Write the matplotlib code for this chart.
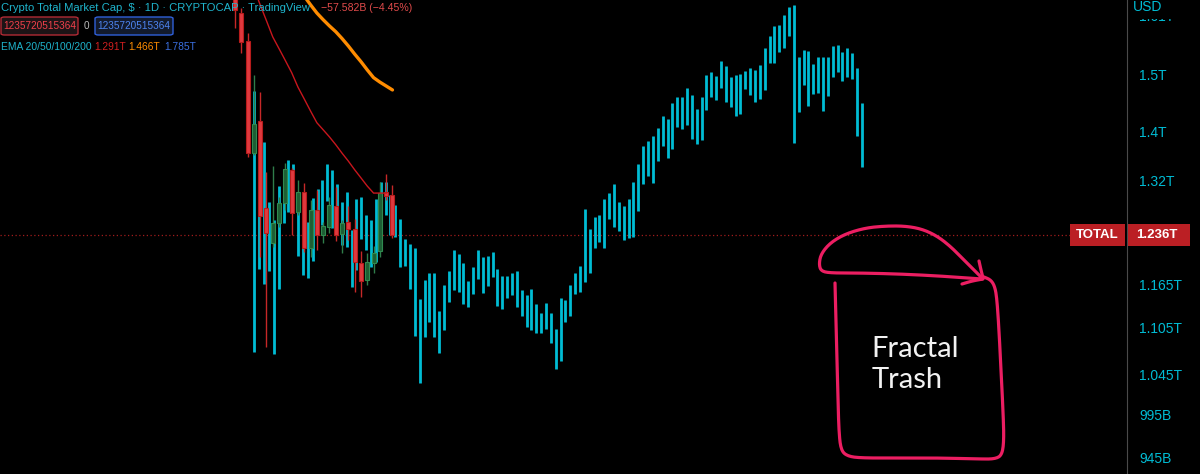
import numpy as np
import matplotlib
matplotlib.use('Agg')
import matplotlib.pyplot as plt
from matplotlib.patches import Rectangle, FancyBboxPatch
from matplotlib.lines import Line2D
from matplotlib.ticker import NullLocator, NullFormatter

# fractal projection bars (trillions USD), high / low
proj_high = [1.470, 1.399, 1.383, 1.286, 1.259, 1.311, 1.321, 1.353, 1.347, 1.302,
             1.289, 1.256, 1.292, 1.307, 1.321, 1.347, 1.337, 1.314, 1.286, 1.302,
             1.243, 1.291, 1.294, 1.266, 1.259, 1.291, 1.318, 1.318, 1.297, 1.282,
             1.260, 1.230, 1.223, 1.217, 1.144, 1.171, 1.181, 1.181, 1.128, 1.164,
             1.184, 1.214, 1.208, 1.195, 1.169, 1.189, 1.214, 1.204, 1.205, 1.211,
             1.186, 1.176, 1.176, 1.181, 1.184, 1.157, 1.150, 1.158, 1.137, 1.125,
             1.139, 1.125, 1.104, 1.146, 1.143, 1.164, 1.181, 1.191, 1.275, 1.245,
             1.263, 1.266, 1.291, 1.300, 1.314, 1.286, 1.280, 1.291, 1.318, 1.347,
             1.376, 1.384, 1.393, 1.406, 1.427, 1.421, 1.449, 1.460, 1.460, 1.476,
             1.463, 1.439, 1.460, 1.499, 1.504, 1.497, 1.525, 1.515, 1.495, 1.499,
             1.501, 1.506, 1.512, 1.508, 1.517, 1.549, 1.571, 1.590, 1.592, 1.612,
             1.627, 1.631, 1.532, 1.545, 1.543, 1.519, 1.532, 1.532, 1.532, 1.552,
             1.554, 1.541, 1.549, 1.539, 1.512, 1.449]
proj_low = [1.073, 1.186, 1.165, 1.184, 1.071, 1.158, 1.254, 1.271, 1.269, 1.205,
            1.178, 1.174, 1.198, 1.236, 1.251, 1.288, 1.247, 1.247, 1.221, 1.218,
            1.161, 1.185, 1.230, 1.214, 1.189, 1.196, 1.240, 1.266, 1.236, 1.233,
            1.189, 1.191, 1.158, 1.094, 1.034, 1.093, 1.113, 1.093, 1.072, 1.102,
            1.140, 1.157, 1.154, 1.137, 1.133, 1.151, 1.172, 1.153, 1.162, 1.175,
            1.135, 1.131, 1.146, 1.150, 1.133, 1.121, 1.106, 1.102, 1.098, 1.098,
            1.104, 1.085, 1.052, 1.062, 1.113, 1.121, 1.151, 1.154, 1.168, 1.181,
            1.217, 1.226, 1.217, 1.260, 1.248, 1.242, 1.229, 1.232, 1.233, 1.272,
            1.314, 1.327, 1.316, 1.351, 1.376, 1.356, 1.371, 1.408, 1.405, 1.411,
            1.388, 1.379, 1.386, 1.437, 1.460, 1.455, 1.476, 1.451, 1.442, 1.427,
            1.430, 1.474, 1.463, 1.451, 1.456, 1.472, 1.521, 1.521, 1.541, 1.549,
            1.571, 1.381, 1.434, 1.481, 1.444, 1.465, 1.467, 1.435, 1.462, 1.495,
            1.504, 1.488, 1.495, 1.492, 1.393, 1.342]

# daily candles of TOTAL (trillions USD)
c_open = [1.648, 1.615, 1.562, 1.364, 1.418, 1.277, 1.224, 1.254, 1.285, 1.337, 1.271, 1.302, 1.217,
          1.274, 1.236, 1.248, 1.280, 1.238, 1.256, 1.245, 1.195, 1.171, 1.195, 1.212, 1.302, 1.297]
c_high = [1.660, 1.625, 1.577, 1.499, 1.469, 1.334, 1.343, 1.294, 1.348, 1.340, 1.321, 1.316, 1.289,
          1.305, 1.256, 1.294, 1.310, 1.259, 1.280, 1.260, 1.212, 1.210, 1.220, 1.318, 1.330, 1.313]
c_low = [1.586, 1.539, 1.358, 1.361, 1.204, 1.080, 1.218, 1.248, 1.274, 1.236, 1.266, 1.211, 1.204,
         1.214, 1.224, 1.239, 1.227, 1.210, 1.229, 1.154, 1.147, 1.164, 1.181, 1.204, 1.289, 1.232]
c_close = [1.621, 1.560, 1.364, 1.413, 1.265, 1.239, 1.254, 1.285, 1.338, 1.269, 1.302, 1.217, 1.274,
           1.236, 1.250, 1.282, 1.236, 1.254, 1.245, 1.196, 1.169, 1.196, 1.210, 1.300, 1.296, 1.236]

# EMAs (visible parts), first candle index of each
ema20_start = 3
ema20 = [1.664, 1.631, 1.600, 1.569, 1.547, 1.525, 1.503, 1.477, 1.456, 1.435, 1.415,
         1.403, 1.391, 1.378, 1.364, 1.351, 1.337, 1.324, 1.311, 1.300, 1.300, 1.300]
ema50_start = 11
ema50 = [1.648, 1.631, 1.615, 1.602, 1.590, 1.579, 1.566, 1.552, 1.537, 1.523,
         1.508, 1.494, 1.486, 1.479, 1.472]

tick_vals = [1.61, 1.5, 1.4, 1.32, 1.165, 1.105, 1.045, 0.995, 0.945]
tick_labels = ['1.61T', '1.5T', '1.4T', '1.32T', '1.165T', '1.105T', '1.045T', '995B', '945B']
last_price = 1.236

CYAN = '#00bcd4'
W, H = 1200, 474

plt.rcParams['font.family'] = ['Liberation Sans', 'DejaVu Sans']


def px(x, y):
    return x / W, 1 - y / H


fig = plt.figure(figsize=(12, 4.74), dpi=100, facecolor='black')
ax = fig.add_axes([0, 0, 1127 / W, 1])
ax.set_facecolor('black')
ax.set_yscale('log')
ax.set_ylim(0.9267, 1.6405)
ax.set_xlim(-52.35, 179.55)

# projection bars
ax.vlines(np.arange(len(proj_high)), proj_low, proj_high, color=CYAN, lw=2.0, zorder=2)

ax.axhline(last_price, xmax=1070 / 1127, color='#a01c1c', ls=(0, (1, 2)), lw=0.9, zorder=1)

ax.yaxis.tick_right()
ax.yaxis.set_minor_locator(NullLocator())
ax.yaxis.set_minor_formatter(NullFormatter())
ax.set_yticks(tick_vals, tick_labels)
ax.tick_params(axis='y', length=0, pad=9, labelcolor=CYAN, labelsize=10)
ax.xaxis.set_visible(False)
for s in ['top', 'left', 'bottom']:
    ax.spines[s].set_visible(False)
ax.spines['right'].set_color('#4a4a4a')

# candles on a twin x axis
ax2 = ax.twiny()
ax2.set_xlim(-37.3, 141.6)
ax2.xaxis.set_visible(False)
for s in ax2.spines.values():
    s.set_visible(False)

xs = np.arange(len(c_open))
o = np.array(c_open)
c = np.array(c_close)
up = c >= o
wick_col = np.where(up, '#2f7d4a', '#c62828')
ax2.vlines(xs, c_low, c_high, colors=wick_col, lw=1.0, zorder=3)
ax2.bar(xs[up], c[up] - o[up], bottom=o[up], width=0.64, color='#1e5e34',
        edgecolor='#2f8a4f', lw=0.8, zorder=4)
ax2.bar(xs[~up], o[~up] - c[~up], bottom=c[~up], width=0.64, color='#e0393e',
        edgecolor='#b71c1c', lw=0.8, zorder=4)

ax2.plot(np.arange(len(ema20)) + ema20_start, ema20, color='#c8161d', lw=1.0, zorder=5)
ax2.plot(np.arange(len(ema50)) + ema50_start, ema50, color='#ff8c00', lw=2.4,
         solid_capstyle='round', zorder=5)

# price labels at the right
fig.canvas.draw()
y_last = ax.transData.transform((0, last_price))[1] / H
bh = 22 / H
fig.patches.append(Rectangle((1070 / W, y_last - bh / 2), 55 / W, bh, transform=fig.transFigure,
                             facecolor='#bb1f24', edgecolor='none', zorder=6))
fig.patches.append(Rectangle((1128 / W, y_last - bh / 2), 62 / W, bh, transform=fig.transFigure,
                             facecolor='#bb1f24', edgecolor='none', zorder=6))
fig.text(1097.5 / W, y_last, 'TOTAL', color='white', fontsize=9.5, fontweight='bold',
         ha='center', va='center', zorder=7)
fig.text(1136 / W, y_last, '1.236T', color='white', fontsize=9.5, fontweight='bold',
         ha='left', va='center', zorder=7)

# USD caption hides most of the top tick label
fig.patches.append(Rectangle(px(1130, 19), 65 / W, 19 / H, transform=fig.transFigure,
                             facecolor='black', edgecolor='none', zorder=6))
fig.text(*px(1133, 7), 'USD', color=CYAN, fontsize=10, ha='left', va='center', zorder=7)

# header
fig.text(*px(1, 8), 'Crypto Total Market Cap, $ · 1D · CRYPTOCAP · TradingView',
         color='#1fb4cc', fontsize=8.1, ha='left', va='center')
fig.text(*px(321, 8), '−57.582B (−4.45%)', color='#e04b4b', fontsize=7.6, ha='left', va='center')

fig.patches.append(FancyBboxPatch(px(1, 35), 77 / W, 18 / H, boxstyle='round,pad=0,rounding_size=0.003',
                                  transform=fig.transFigure, facecolor='#1c1416',
                                  edgecolor='#b02a35', lw=1.0))
fig.text(*px(39.5, 26), '1235720515364', color='#f0404a', fontsize=7.2, ha='center', va='center')
fig.text(*px(86, 26), '0', color='#bbbbbb', fontsize=7.2, ha='center', va='center')
fig.patches.append(FancyBboxPatch(px(95, 35), 78 / W, 18 / H, boxstyle='round,pad=0,rounding_size=0.003',
                                  transform=fig.transFigure, facecolor='#121a2c',
                                  edgecolor='#2f5fd8', lw=1.0))
fig.text(*px(134, 26), '1235720515364', color='#4d84f0', fontsize=7.2, ha='center', va='center')

fig.text(*px(1, 47), 'EMA 20/50/100/200', color='#1fb4cc', fontsize=7.4, ha='left', va='center')
fig.text(*px(94, 47), '1.291T', color='#d01f1f', fontsize=7.4, ha='left', va='center')
fig.text(*px(128, 47), '1.466T', color='#ff8c00', fontsize=7.4, ha='left', va='center')
fig.text(*px(164, 47), '1.785T', color='#3a6fe0', fontsize=7.4, ha='left', va='center')


# hand drawn annotation
def chaikin(pts, n=3):
    p = np.asarray(pts, float)
    for _ in range(n):
        q = 0.75 * p[:-1] + 0.25 * p[1:]
        r = 0.25 * p[:-1] + 0.75 * p[1:]
        p = np.vstack([p[:1], np.column_stack([q, r]).reshape(-1, 2), p[-1:]])
    return p


strokes = [
    [(982, 279), (940, 276), (900, 274), (860, 273), (830, 273), (821, 271), (819, 264), (821, 254),
     (830, 243), (845, 234), (865, 228), (885, 226), (905, 226), (922, 229), (937, 236), (950, 246),
     (962, 258), (972, 268), (981, 277)],
    [(979, 261), (981, 270), (983, 278)],
    [(962, 284), (972, 281), (983, 279)],
    [(835, 283), (836, 320), (837, 360), (838, 400), (839, 433), (841, 450), (847, 456), (860, 458),
     (900, 458), (940, 458), (980, 459), (995, 459), (1002, 455), (1004, 440), (1003, 410),
     (1001, 370), (999, 330), (997, 300), (995, 287), (991, 280), (984, 277)],
]
for st in strokes:
    p = chaikin(st)
    fig.add_artist(Line2D(p[:, 0] / W, 1 - p[:, 1] / H, transform=fig.transFigure,
                          color='#ec1e62', lw=2.3, solid_capstyle='round', solid_joinstyle='round'))

fig.text(*px(871, 357), 'Fractal', color='#f2f2f2', fontsize=21, family='Lato', va='baseline')
fig.text(*px(872, 388), 'Trash', color='#f2f2f2', fontsize=21, family='Lato', va='baseline')

fig.savefig('out.png', dpi=100, facecolor='black')
